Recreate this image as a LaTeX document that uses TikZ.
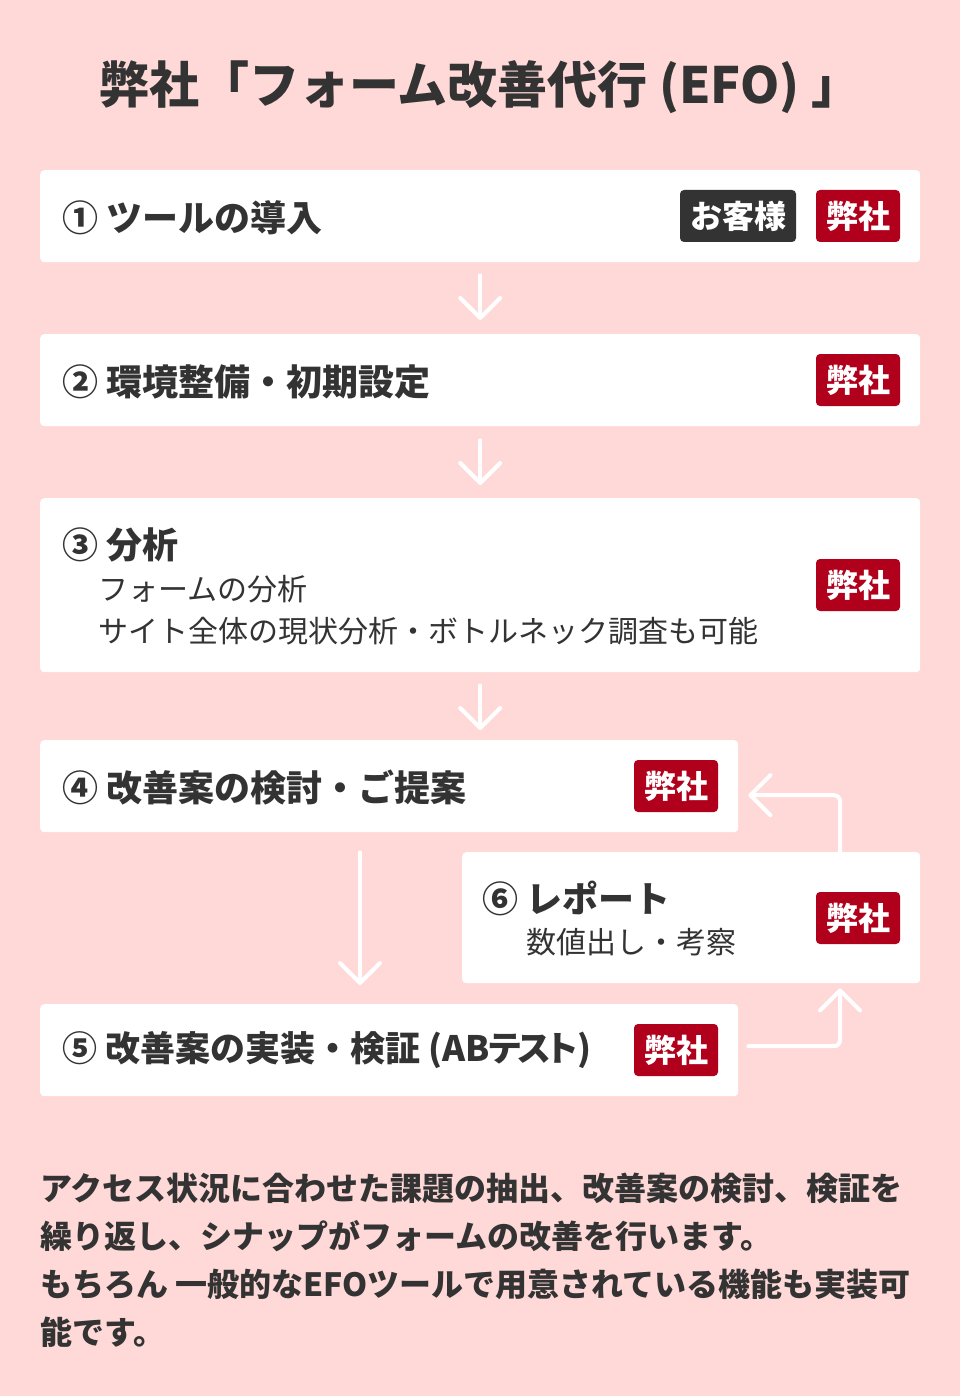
\documentclass[tikz,border=0pt]{standalone}
\usepackage{fontspec}
\setmainfont{Noto Sans CJK JP}
\newfontfamily\jppalt{Noto Sans CJK JP}[RawFeature=+palt]
\usetikzlibrary{arrows.meta}
\definecolor{bgpink}{HTML}{FFD9D8}
\definecolor{tagred}{HTML}{B1001C}
\definecolor{tagdark}{HTML}{333333}
\definecolor{inkc}{HTML}{333333}
\begin{document}
\begin{tikzpicture}[x=1pt,y=-1pt,
  box/.style={fill=white, rounded corners=4pt, minimum height=92pt, anchor=north west, inner sep=0pt},
  tagbase/.style={rounded corners=4pt, text=white, font=\bfseries\fontsize{32}{32}\selectfont, minimum height=52pt, inner sep=0pt, anchor=center},
  tagr/.style={tagbase, fill=tagred, minimum width=84pt},
  tagd/.style={tagbase, fill=tagdark, minimum width=116pt},
  steptitle/.style={anchor=west, text=inkc, font=\bfseries\fontsize{36}{36}\selectfont, inner sep=0pt},
  stepsub/.style={anchor=west, text=inkc, font=\fontsize{30}{30}\selectfont, inner sep=0pt},
  flow/.style={draw=white, line width=4pt, line cap=round, line join=round, -{Straight Barb[length=20pt,width=40pt,round]}}
]
\useasboundingbox[fill=bgpink] (0,0) rectangle (960,1396);

% title
\node[anchor=west, font=\bfseries\fontsize{50}{50}\selectfont, text=inkc, inner sep=0pt] (title) at (99,87) {弊社「フォーム改善代行 (EFO) 」};

% boxes
\node[box, minimum width=880pt] (b1) at (40,170) {};
\node[box, minimum width=880pt] (b2) at (40,334) {};
\node[box, minimum width=880pt, minimum height=174pt] (b3) at (40,498) {};
\node[box, minimum width=698pt] (b4) at (40,740) {};
\node[box, minimum width=458pt, minimum height=131pt] (b6) at (462,852) {};
\node[box, minimum width=698pt] (b5) at (40,1004) {};

% texts
\node[steptitle] (t1) at (62,218) {① ツールの導入};
\node[tagd] (c1) at (738,216) {お客様};
\node[tagr] (r1) at (858,216) {弊社};

\node[steptitle] (t2) at (62,382) {② 環境整備・初期設定};
\node[tagr] (r2) at (858,380) {弊社};

\node[steptitle] (t3) at (62,545) {③ 分析};
\node[stepsub] (s3a) at (98,589) {フォームの分析};
\node[stepsub] (s3b) at (98,631) {サイト全体の現状分析・ボトルネック調査も可能};
\node[tagr] (r3) at (858,585) {弊社};

\node[steptitle] (t4) at (62,788) {④ 改善案の検討・ご提案};
\node[tagr] (r4) at (676,786) {弊社};

\node[steptitle] (t6) at (482,898) {⑥ レポート};
\node[stepsub] (s6) at (526,942) {数値出し・考察};
\node[tagr] (r6) at (858,918) {弊社};

\node[steptitle, font=\bfseries\fontsize{35}{35}\selectfont] (t5) at (62,1050) {⑤ 改善案の実装・検証 ({\jppalt AB\kern-1pt テ\kern-3pt ス\kern-3pt ト})};
\node[tagr] (r5) at (676,1050) {弊社};

% connectors
\coordinate (a3) at (b3.south |- b4.north);
\coordinate (c45) at (360,0);
\coordinate (lx) at (840,0);
\draw[flow] ([yshift=-13pt]b1.south) -- ([yshift=14pt]b2.north);
\draw[flow] ([yshift=-14pt]b2.south) -- ([yshift=13pt]b3.north);
\draw[flow] ([yshift=-13pt]b3.south) -- ([yshift=10pt]a3);
\draw[flow] ([yshift=-20pt]b4.south -| c45) -- ([yshift=19pt]b5.north -| c45);
\draw[flow, rounded corners=6pt] ([xshift=10pt,yshift=4pt]b5.east) -| ([yshift=-5pt]b6.south -| lx);
\draw[flow, rounded corners=6pt] (b6.north -| lx) |- ([xshift=10pt,yshift=-9pt]b4.east);

% bottom text
\node[anchor=north west, align=left, text=inkc, inner sep=0pt,
      font=\bfseries\fontsize{32}{48}\selectfont] (foot) at (40,1173)
  {アクセス状況に合わせた課題の抽出、改善案の検討、検証を\\
   繰り返し、シナップがフォームの改善を行います。\\
   もちろん 一般的なEFOツールで用意されている機能も実装可\\
   能です。};
\end{tikzpicture}
\end{document}
